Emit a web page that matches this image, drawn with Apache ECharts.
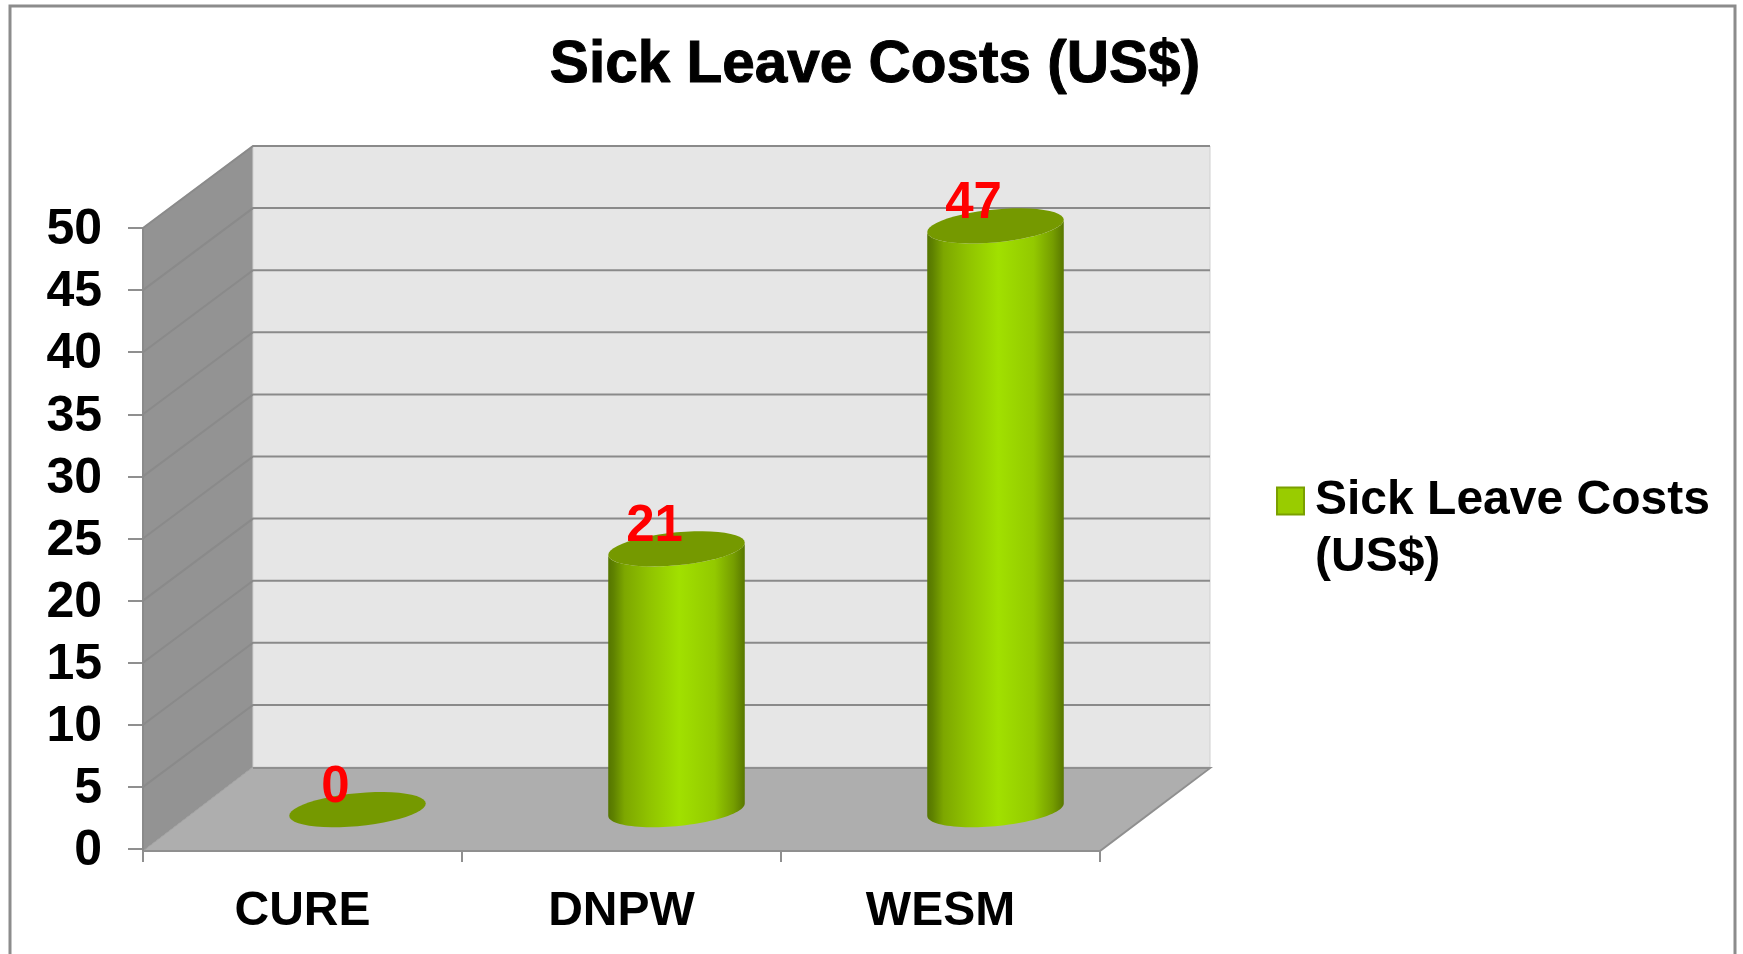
<!DOCTYPE html>
<html>
<head>
<meta charset="utf-8">
<title>Sick Leave Costs (US$)</title>
<style>
  html, body { margin: 0; padding: 0; background: #fff; }
  #main { width: 1743px; height: 954px; }
</style>
<script src="https://cdn.jsdelivr.net/npm/echarts@6/dist/echarts.min.js"></script>
</head>
<body>
<div id="main"></div>
<script>
const seriesName = 'Sick Leave Costs (US$)'
const categories = ['CURE', 'DNPW', 'WESM']
const costs = [0, 21, 47]
const yTicks = [0, 5, 10, 15, 20, 25, 30, 35, 40, 45, 50]

const FONT = '"Liberation Sans", Arial, sans-serif'
// fake 3d box: how far the back wall sits from the front edge
const DEPTH_X = 110
const DEPTH_Y = -82

// cylinder side shading
const sideFill = new echarts.graphic.LinearGradient(0, 0, 1, 0, [
  { offset: 0, color: '#557500' },
  { offset: 0.04, color: '#5f8200' },
  { offset: 0.12, color: '#7da700' },
  { offset: 0.3, color: '#90c300' },
  { offset: 0.52, color: '#a1e000' },
  { offset: 0.78, color: '#93c900' },
  { offset: 0.92, color: '#759d00' },
  { offset: 1, color: '#587700' }
])

function renderBox (params, api) {
  const x0 = api.coord([0, 0])[0] - api.size([1, 0])[0] / 2
  const x1 = x0 + api.size([1, 0])[0] * categories.length
  const y0 = api.coord([0, 0])[1]
  const yTop = api.coord([0, 50])[1]
  const floorY = y0 + 2
  const children = [
    { type: 'polygon', shape: { points: [[x0, yTop], [x0 + DEPTH_X, yTop + DEPTH_Y], [x0 + DEPTH_X, y0 + DEPTH_Y], [x0, floorY]] }, style: { fill: '#939393' } },
    { type: 'polygon', shape: { points: [[x0 + DEPTH_X, yTop + DEPTH_Y], [x1 + DEPTH_X, yTop + DEPTH_Y], [x1 + DEPTH_X, y0 + DEPTH_Y], [x0 + DEPTH_X, y0 + DEPTH_Y]] }, style: { fill: '#e6e6e6', stroke: '#d0d0d0', lineWidth: 1 } },
    { type: 'polygon', shape: { points: [[x0, floorY], [x0 + DEPTH_X, y0 + DEPTH_Y], [x1 + DEPTH_X, y0 + DEPTH_Y], [x1, floorY]] }, style: { fill: '#aeaeae' } },
    { type: 'polyline', shape: { points: [[x0, floorY], [x1, floorY], [x1 + DEPTH_X, y0 + DEPTH_Y + 1], [x0 + DEPTH_X, y0 + DEPTH_Y + 1]] }, style: { fill: 'none', stroke: '#8f8f8f', lineWidth: 2 } },
    { type: 'line', shape: { x1: x0, y1: floorY, x2: x0 + DEPTH_X, y2: y0 + DEPTH_Y }, style: { stroke: '#a0a0a0', lineWidth: 1 } }
  ]
  yTicks.forEach(function (t) {
    if (t === 0) return
    const y = api.coord([0, t])[1]
    // line across the side wall and on along the back wall
    children.push({
      type: 'polyline',
      shape: { points: [[x0, y], [x0 + DEPTH_X, y + DEPTH_Y], [x1 + DEPTH_X, y + DEPTH_Y]] },
      style: { fill: 'none', stroke: '#8a8a8a', lineWidth: 2 }
    })
  })
  children.push({ type: 'line', shape: { x1: x0, y1: yTop, x2: x0, y2: floorY }, style: { stroke: '#8a8a8a', lineWidth: 2 } })
  return { type: 'group', children: children }
}

function ellipsePoints (cx, cy, a, from, to) {
  const pts = []
  for (let i = 0; i <= 48; i++) {
    const t = from + (to - from) * i / 48
    pts.push([cx + a * Math.cos(t), cy + 16.5 * Math.sin(t) - 0.09 * a * Math.cos(t)])
  }
  return pts
}

function renderCylinder (params, api) {
  const cat = api.value(0)
  const val = api.value(1)
  const base = api.coord([cat, 0])
  const top = api.coord([cat, val])
  const a = api.size([1, 0])[0] * 0.214
  const cx = base[0] + DEPTH_X / 2
  const by = base[1] + DEPTH_Y * 0.48
  const ty = top[1] + DEPTH_Y * 0.48
  const children = []
  if (val > 0) {
    // right side -> front of the base -> left side, top edge hidden under the lid
    const side = ellipsePoints(cx, by, a, 0, Math.PI).concat(ellipsePoints(cx, ty, a, Math.PI, 0))
    children.push({ type: 'polygon', shape: { points: side }, style: { fill: sideFill } })
  }
  children.push({ type: 'polygon', shape: { points: ellipsePoints(cx, ty, a, 0, Math.PI * 2) }, style: { fill: '#759900' } })
  children.push({
    type: 'text',
    style: {
      x: cx - 22, y: ty - 22, text: String(val), fill: '#ff0000',
      font: 'bold 51px ' + FONT, align: 'center', verticalAlign: 'middle'
    }
  })
  return { type: 'group', children: children }
}

const chart = echarts.init(document.getElementById('main'))
chart.setOption({
  animation: false,
  title: {
    text: seriesName,
    left: 870,
    top: 61,
    textAlign: 'center',
    textVerticalAlign: 'middle',
    textStyle: { fontFamily: FONT, fontSize: 58.5, fontWeight: 'bold', color: '#000', textBorderColor: '#000', textBorderWidth: 1 }
  },
  legend: {
    data: [seriesName],
    left: 1276,
    top: 477,
    padding: 0,
    orient: 'vertical',
    icon: 'rect',
    itemWidth: 27,
    itemHeight: 27,
    itemGap: 0,
    selectedMode: false,
    itemStyle: { color: '#99cc00', borderColor: '#7a9f00', borderWidth: 2 },
    formatter: '{a|Sick Leave Costs}\n{a|(US$)}',
    textStyle: {
      // top padding keeps the marker level with the first line
      padding: [57, 0, 0, 6],
      rich: { a: { fontFamily: FONT, fontSize: 48, fontWeight: 'bold', color: '#000', lineHeight: 57 } }
    }
  },
  grid: { left: 143, right: 643, top: 228, bottom: 105 },
  xAxis: {
    type: 'category',
    data: categories,
    offset: 2,
    axisLine: { show: true, lineStyle: { color: '#8f8f8f', width: 2 } },
    axisTick: { show: true, length: 13, lineStyle: { color: '#8f8f8f', width: 2 } },
    axisLabel: { interval: 0, margin: 37, fontFamily: FONT, fontSize: 48, fontWeight: 'bold', color: '#000' }
  },
  yAxis: {
    type: 'value',
    min: 0,
    max: 50,
    interval: 5,
    axisLine: { show: false },
    axisTick: { show: true, length: 15, lineStyle: { color: '#8f8f8f', width: 2 } },
    axisLabel: {
      margin: 41,
      padding: [5, 0, 0, 0],
      formatter: '{a|{value}}',
      rich: { a: { fontFamily: FONT, fontSize: 50, fontWeight: 'bold', color: '#000' } }
    },
    splitLine: { show: false }
  },
  graphic: [{
    type: 'rect',
    shape: { x: 10, y: 6, width: 1725, height: 970 },
    style: { fill: 'none', stroke: '#8c8c8c', lineWidth: 3 },
    silent: true
  }],
  series: [
    { type: 'custom', name: 'box', data: [0], clip: false, z: 1, silent: true, renderItem: renderBox },
    {
      type: 'custom',
      name: seriesName,
      data: costs.map(function (v, i) { return [i, v] }),
      encode: { x: 0, y: 1 },
      clip: false,
      z: 3,
      itemStyle: { color: '#99cc00' },
      renderItem: renderCylinder
    }
  ]
})
</script>
</body>
</html>
